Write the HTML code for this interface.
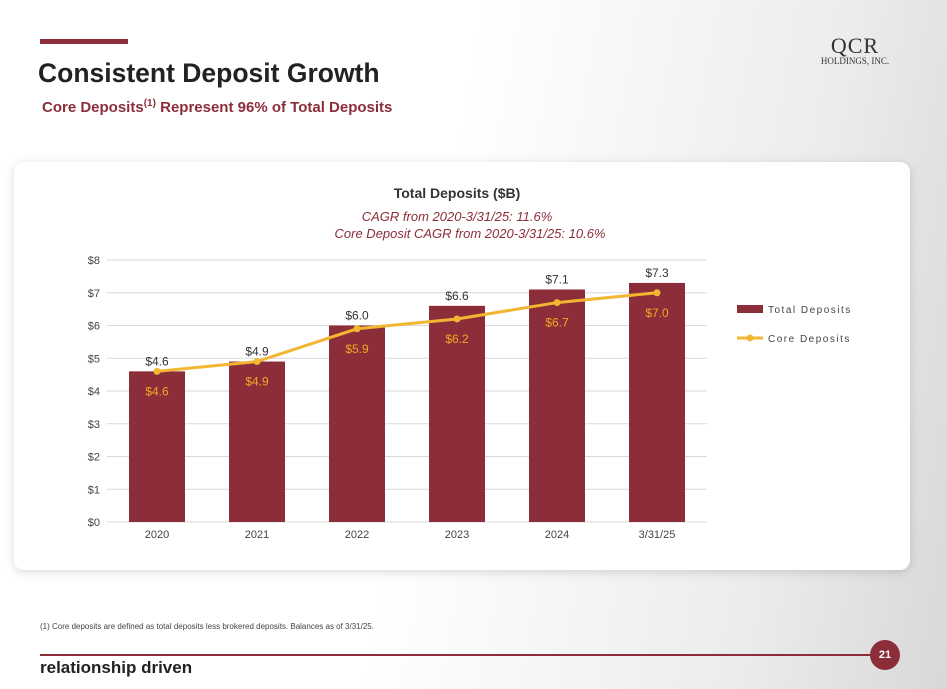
<!DOCTYPE html>
<html><head><meta charset="utf-8"><style>
body{margin:0;width:947px;height:689px;overflow:hidden;background:#fff;font-family:"Liberation Sans",Arial,sans-serif;position:relative}
.abs{position:absolute}
</style></head><body>
<div class="abs" style="left:0;top:0;width:947px;height:689px;background:linear-gradient(100deg,#fff 0%,#fff 45%,#ececec 80%,#d8d8d8 100%)"></div>
<div class="abs" style="left:40px;top:39px;width:88px;height:5px;background:#8b2e3a"></div>
<div class="abs" style="left:38px;top:58px;font-size:26.5px;font-weight:bold;color:#222">Consistent Deposit Growth</div>
<div class="abs" style="left:42px;top:98px;font-size:15px;font-weight:bold;color:#8b2e3a">Core Deposits<sup style="font-size:10px">(1)</sup> Represent 96% of Total Deposits</div>
<div class="abs" style="left:810px;top:36px;width:90px;text-align:center;font-family:'Liberation Serif',serif;color:#333">
<div style="font-size:22px;line-height:20px;letter-spacing:1px">QCR</div><div style="font-size:9px">HOLDINGS, INC.</div></div>
<div class="abs" style="left:14px;top:162px;width:896px;height:408px;background:#fff;border-radius:10px;box-shadow:0 2px 10px rgba(0,0,0,0.15)"></div>
<svg class="abs" id="chart" style="left:0;top:0" width="947" height="689"></svg>
<div class="abs" style="left:40px;top:622px;font-size:8px;color:#444">(1) Core deposits are defined as total deposits less brokered deposits. Balances as of 3/31/25.</div>
<div class="abs" style="left:40px;top:654px;width:830px;height:2px;background:#8b2e3a"></div>
<div class="abs" style="left:870px;top:640px;width:30px;height:30px;border-radius:50%;background:#8b2e3a;color:#fff;font-size:11px;font-weight:bold;text-align:center;line-height:30px">21</div>
<div class="abs" style="left:40px;top:658px;font-size:17px;font-weight:bold;color:#222">relationship driven</div>
<script>
const categories=["2020","2021","2022","2023","2024","3/31/25"];
const totalDeposits=[4.6,4.9,6.0,6.6,7.1,7.3];
const coreDeposits=[4.6,4.9,5.9,6.2,6.7,7.0];
const yTicks=[0,1,2,3,4,5,6,7,8];
const svg=document.getElementById('chart');
const NS='http://www.w3.org/2000/svg';
const x0=107,x1=707,y0=522,yTop=260,yMax=8;
const y=v=>y0-(v/yMax)*(y0-yTop);
const xc=i=>x0+(i+0.5)*(x1-x0)/categories.length;
function mk(t,a,txt){const e=document.createElementNS(NS,t);for(const k in a)e.setAttribute(k,a[k]);if(txt!==undefined)e.textContent=txt;svg.appendChild(e);return e;}
let e;
e=mk('text',{x:457,y:198,'text-anchor':'middle','font-size':14,'font-weight':'bold',fill:'#333'},'Total Deposits ($B)');

e=mk('text',{x:457,y:221,'text-anchor':'middle','font-size':13,'font-style':'italic',fill:'#8b2e3a'},'CAGR from 2020-3/31/25: 11.6%');

e=mk('text',{x:470,y:238,'text-anchor':'middle','font-size':13,'font-style':'italic',fill:'#8b2e3a'},'Core Deposit CAGR from  2020-3/31/25: 10.6%');

yTicks.forEach(t=>{
 e=mk('line',{x1:x0,x2:x1,y1:y(t),y2:y(t),stroke:'#d9d9d9','stroke-width':1});
 
 e=mk('text',{x:100,y:y(t)+4,'text-anchor':'end','font-size':11,fill:'#444'},'$'+t);
 
});
categories.forEach((c,i)=>{
 e=mk('rect',{x:xc(i)-28,y:y(totalDeposits[i]),width:56,height:y0-y(totalDeposits[i]),fill:'#8b2e3a'});
 
 e=mk('text',{x:xc(i),y:y(totalDeposits[i])-6,'text-anchor':'middle','font-size':12,fill:'#333'},'$'+totalDeposits[i].toFixed(1));
 
 e=mk('text',{x:xc(i),y:538,'text-anchor':'middle','font-size':11,fill:'#444'},c);
 
});
e=mk('polyline',{points:coreDeposits.map((v,i)=>xc(i)+','+y(v)).join(' '),fill:'none',stroke:'#f2b632','stroke-width':3});

coreDeposits.forEach((v,i)=>{
 e=mk('circle',{cx:xc(i),cy:y(v),r:3.5,fill:'#f2b632'});
 
 e=mk('text',{x:xc(i),y:y(v)+24,'text-anchor':'middle','font-size':12,fill:'#f5a623'},'$'+v.toFixed(1));
 
});
e=mk('rect',{x:737,y:305,width:26,height:8,fill:'#8b2e3a'});

e=mk('text',{x:768,y:313,'font-size':10,fill:'#444','letter-spacing':1.5},'Total Deposits');

e=mk('line',{x1:737,x2:763,y1:338,y2:338,stroke:'#f2b632','stroke-width':3});

mk('circle',{cx:750,cy:338,r:3.5,fill:'#f2b632'});
e=mk('text',{x:768,y:342,'font-size':10,fill:'#444','letter-spacing':1.5},'Core Deposits');

</script>
</body></html>
